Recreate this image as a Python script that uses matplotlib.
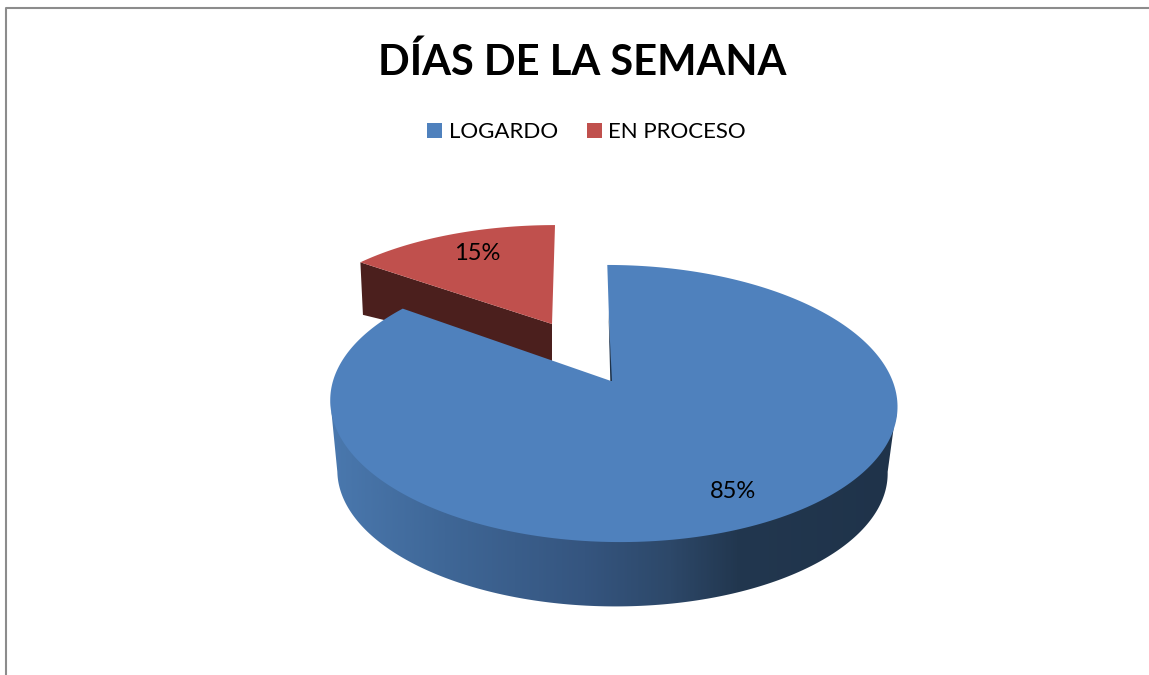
import numpy as np
import matplotlib
matplotlib.use("Agg")
import matplotlib.pyplot as plt
from matplotlib.colors import LinearSegmentedColormap
from matplotlib.patches import Patch, Polygon

# Data
categories = ["LOGARDO", "EN PROCESO"]
values = [85, 15]
labels = ["85%", "15%"]
title = "DÍAS DE LA SEMANA"

plt.rcParams['font.family'] = ['Lato', 'DejaVu Sans']

blue = "#4f81bd"
red = "#c0504d"
dark_red = "#4b1f1d"
k = 0.1625


# flat disc seen in perspective, angle counted clockwise from the top
def project(theta, x0, y0, sx, sy, skew=0.0):
    X = np.sin(theta)
    Y = np.cos(theta)
    d = 1 + k * Y
    return x0 + (sx * X + skew * Y) / d, y0 - sy * Y / d


fig = plt.figure(figsize=(11.49, 6.75), dpi=100)
ax = fig.add_axes([0, 0, 1, 1])
ax.set_xlim(0, 1149)
ax.set_ylim(675, 0)
ax.axis("off")

# chart border, only top and left show
ax.plot([5.5, 5.5, 1149], [675, 7.5, 7.5], color="#8c8c8c", lw=1.5, zorder=1)

share = values[0] / sum(values)
end = 2 * np.pi * share

# red slice, pulled out and further back
red_top = (552, 324, 262, 115, 3.5)
red_low = (552, 361, 256, 86, 0.0)
t = np.linspace(end, 2 * np.pi, 60)
x, y = project(t, *red_top)
xl, yl = project(t[:1], *red_low)
xt, yt = project(t[:1], *red_top)
ax.add_patch(Polygon([(xt[0], yt[0]), (552, 324), (552, 361), (xl[0], yl[0])],
                     closed=True, fc=dark_red, ec="none", zorder=2))
ax.add_patch(Polygon(np.r_[[[552, 324]], np.c_[x, y]], closed=True, fc=red, ec="none", zorder=3))

# blue side wall, gradient clipped to the front of the disc
main_top = (612.8, 381, 279.8, 134.9, -6.4)
main_low = (612, 450, 271.5, 131.0, -3.0)
edge = np.arccos(-k)
t = np.linspace(edge, 2 * np.pi - edge, 200)
xu, yu = project(t, *main_top)
xb, yb = project(t, *main_low)
# start the wall a little under the top face so no seam shows
wall = Polygon(np.r_[np.c_[xu, yu - 3], np.c_[xb, yb][::-1]], closed=True, fc="none", ec="none", zorder=4)
ax.add_patch(wall)
cmap = LinearSegmentedColormap.from_list("wall", [
    (0.0, "#4a78ae"), (0.2, "#3f6797"), (0.45, "#35557f"),
    (0.6, "#2d4869"), (0.72, "#22374f"), (1.0, "#1f334a")])
img = ax.imshow(np.linspace(0, 1, 560)[None, :], extent=(330, 897, 675, 0), cmap=cmap,
                aspect="auto", zorder=4, interpolation="bilinear")
img.set_clip_path(wall)
ax.set_xlim(0, 1149)
ax.set_ylim(675, 0)

# blue top face
t = np.linspace(0, end, 300)
x, y = project(t, *main_top)
ax.add_patch(Polygon(np.r_[[[611, 381]], np.c_[x, y]], closed=True, fc=blue, ec="none", zorder=5))
ax.add_patch(Polygon([(608.5, 312), (612, 381), (610.3, 381)], closed=True, fc="#1f334a", ec="none", zorder=6))

ax.text(733, 491, labels[0], ha="center", va="center", fontsize=17, color="black", zorder=7)
ax.text(477, 253, labels[1], ha="center", va="center", fontsize=17, color="black", zorder=7)

ax.text(582, 62, title, ha="center", va="center", fontsize=30, fontweight="bold", color="black")

handles = [Patch(fc=blue, ec="none"), Patch(fc=red, ec="none")]
ax.legend(handles, categories, loc="center", bbox_to_anchor=(586.5 / 1149, 1 - 132 / 675), ncol=2,
          frameon=False, fontsize=16, handlelength=0.68, handleheight=0.68,
          handletextpad=0.28, columnspacing=1.3, borderpad=0)

fig.savefig("out.png", dpi=100)
